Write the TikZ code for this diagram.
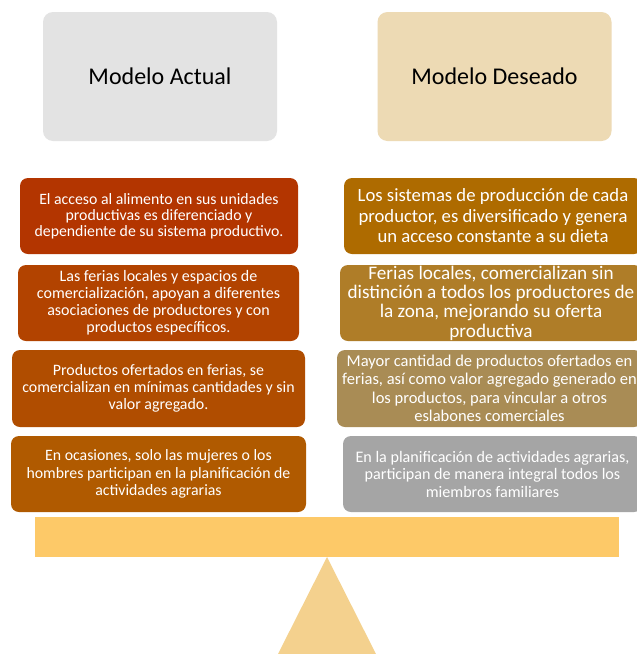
\documentclass[tikz,border=0pt]{standalone}
\usepackage{fontspec}
\setmainfont{Carlito}
\definecolor{cTopL}{HTML}{E3E3E3}
\definecolor{cTopR}{HTML}{EDDAB4}
\definecolor{cL1}{HTML}{B33500}
\definecolor{cL2}{HTML}{B24300}
\definecolor{cL3}{HTML}{B04D00}
\definecolor{cL4}{HTML}{B05A00}
\definecolor{cR1}{HTML}{AE6B00}
\definecolor{cR2}{HTML}{AF7D28}
\definecolor{cR3}{HTML}{A98C55}
\definecolor{cR4}{HTML}{A5A5A5}
\definecolor{cBar}{HTML}{FDC968}
\definecolor{cTri}{HTML}{F4D18E}
\tikzset{
  titlebox/.style={rounded corners=10pt, minimum height=129pt, minimum width=234pt, inner sep=0pt, align=center, font=\fontsize{24}{28}\selectfont, text=black},
  itembox/.style={rounded corners=8pt, minimum height=76pt, inner sep=0pt, align=center, text=white},
}
\begin{document}
\begin{tikzpicture}[x=1pt,y=-1pt]
\clip (0,0) rectangle (637,654);
\fill[white] (0,0) rectangle (637,654);
\node[titlebox, fill=cTopL] (ta) at (160,76.5) {Modelo Actual};
\node[titlebox, fill=cTopR] (td) at (494.5,76.5) {Modelo Deseado};

\node[itembox, fill=cL1, minimum width=278pt, font=\fontsize{15.8}{16}\selectfont] (l1) at (159,216)
  {El acceso al alimento en sus unidades\\productivas es diferenciado y\\dependiente de su sistema productivo.};
\node[itembox, fill=cL2, minimum width=281pt, font=\fontsize{16}{17}\selectfont] (l2) at (158.5,303)
  {Las ferias locales y espacios de\\comercialización, apoyan a diferentes\\asociaciones de productores y con\\productos específicos.};
\node[itembox, fill=cL3, minimum width=293pt, minimum height=77pt, font=\fontsize{15.9}{17}\selectfont] (l3) at (158.5,388.5)
  {Productos ofertados en ferias, se\\comercializan en mínimas cantidades y sin\\valor agregado.};
\node[itembox, fill=cL4, minimum width=295pt, font=\fontsize{15.8}{17.5}\selectfont] (l4) at (158.5,474)
  {En ocasiones, solo las mujeres o los\\hombres participan en la planificación de\\actividades agrarias};

\node[itembox, fill=cR1, minimum width=298pt, font=\fontsize{18.7}{20.5}\selectfont] (r1) at (493,216)
  {Los sistemas de producción de cada\\productor, es diversificado y genera\\un acceso constante a su dieta};
\node[itembox, fill=cR2, minimum width=302pt, font=\fontsize{19.2}{19.3}\selectfont] (r2) at (491,303)
  {Ferias locales, comercializan sin\\distinción a todos los productores de\\la zona, mejorando su oferta\\productiva};
\node[itembox, fill=cR3, minimum width=305pt, minimum height=77pt, font=\fontsize{16.5}{18.5}\selectfont] (r3) at (489.5,388.5)
  {Mayor cantidad de productos ofertados en\\ferias, así como valor agregado generado en\\los productos, para vincular a otros\\eslabones comerciales};
\node[itembox, fill=cR4, minimum width=299pt, font=\fontsize{16.1}{17.5}\selectfont] (r4) at (492.5,474)
  {En la planificación de actividades agrarias,\\participan de manera integral todos los\\miembros familiares};

\fill[cTri] (327,557) -- (376,654) -- (278,654) -- cycle;
\node[fill=cBar, minimum width=584pt, minimum height=40pt, inner sep=0pt] (bar) at (327,537) {};
\end{tikzpicture}
\end{document}
